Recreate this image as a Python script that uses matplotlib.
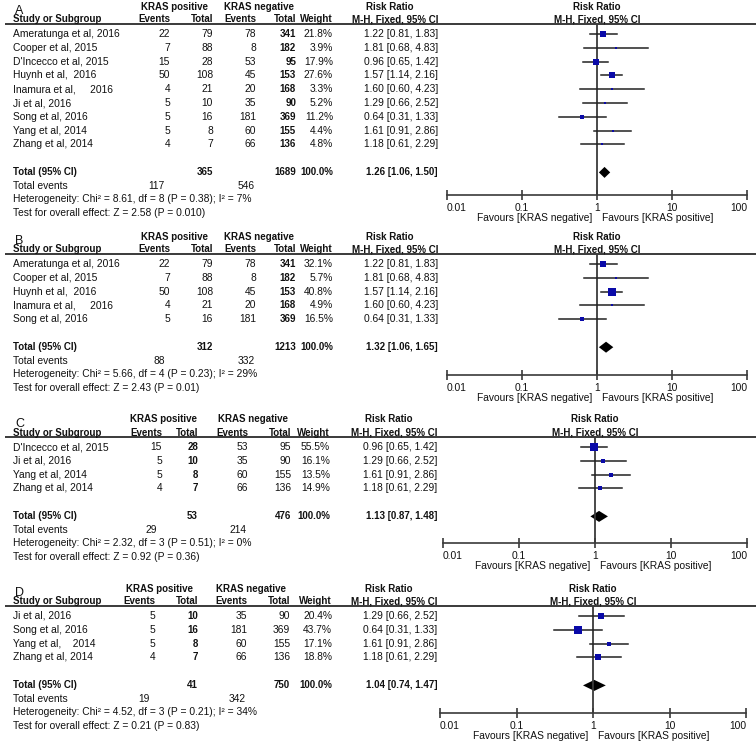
import numpy as np
import matplotlib.pyplot as plt

plt.rcParams['font.family'] = ['Liberation Sans', 'DejaVu Sans']
plt.rcParams['font.size'] = 7.4

W, H = 756, 743

# ---- data ----
# panel A
a_studies = ["Ameratunga et al, 2016", "Cooper et al, 2015", "D'Incecco et al, 2015",
             "Huynh et al,  2016", "Inamura et al,     2016", "Ji et al, 2016",
             "Song et al, 2016", "Yang et al, 2014", "Zhang et al, 2014"]
a_pos_ev = [22, 7, 15, 50, 4, 5, 5, 5, 4]
a_pos_tot = [79, 88, 28, 108, 21, 10, 16, 8, 7]
a_neg_ev = [78, 8, 53, 45, 20, 35, 181, 60, 66]
a_neg_tot = [341, 182, 95, 153, 168, 90, 369, 155, 136]
a_weight = [21.8, 3.9, 17.9, 27.6, 3.3, 5.2, 11.2, 4.4, 4.8]
a_rr = [1.22, 1.81, 0.96, 1.57, 1.60, 1.29, 0.64, 1.61, 1.18]
a_lo = [0.81, 0.68, 0.65, 1.14, 0.60, 0.66, 0.31, 0.91, 0.61]
a_hi = [1.83, 4.83, 1.42, 2.16, 4.23, 2.52, 1.33, 2.86, 2.29]
a_total = [365, 1689, 1.26, 1.06, 1.50]
a_events = [117, 546]
a_het = "Heterogeneity: Chi² = 8.61, df = 8 (P = 0.38); I² = 7%"
a_test = "Test for overall effect: Z = 2.58 (P = 0.010)"

# panel B
b_studies = ["Ameratunga et al, 2016", "Cooper et al, 2015", "Huynh et al,  2016",
             "Inamura et al,     2016", "Song et al, 2016"]
b_pos_ev = [22, 7, 50, 4, 5]
b_pos_tot = [79, 88, 108, 21, 16]
b_neg_ev = [78, 8, 45, 20, 181]
b_neg_tot = [341, 182, 153, 168, 369]
b_weight = [32.1, 5.7, 40.8, 4.9, 16.5]
b_rr = [1.22, 1.81, 1.57, 1.60, 0.64]
b_lo = [0.81, 0.68, 1.14, 0.60, 0.31]
b_hi = [1.83, 4.83, 2.16, 4.23, 1.33]
b_total = [312, 1213, 1.32, 1.06, 1.65]
b_events = [88, 332]
b_het = "Heterogeneity: Chi² = 5.66, df = 4 (P = 0.23); I² = 29%"
b_test = "Test for overall effect: Z = 2.43 (P = 0.01)"

# panel C
c_studies = ["D'Incecco et al, 2015", "Ji et al, 2016", "Yang et al, 2014", "Zhang et al, 2014"]
c_pos_ev = [15, 5, 5, 4]
c_pos_tot = [28, 10, 8, 7]
c_neg_ev = [53, 35, 60, 66]
c_neg_tot = [95, 90, 155, 136]
c_weight = [55.5, 16.1, 13.5, 14.9]
c_rr = [0.96, 1.29, 1.61, 1.18]
c_lo = [0.65, 0.66, 0.91, 0.61]
c_hi = [1.42, 2.52, 2.86, 2.29]
c_total = [53, 476, 1.13, 0.87, 1.48]
c_events = [29, 214]
c_het = "Heterogeneity: Chi² = 2.32, df = 3 (P = 0.51); I² = 0%"
c_test = "Test for overall effect: Z = 0.92 (P = 0.36)"

# panel D
d_studies = ["Ji et al, 2016", "Song et al, 2016", "Yang et al,    2014", "Zhang et al, 2014"]
d_pos_ev = [5, 5, 5, 4]
d_pos_tot = [10, 16, 8, 7]
d_neg_ev = [35, 181, 60, 66]
d_neg_tot = [90, 369, 155, 136]
d_weight = [20.4, 43.7, 17.1, 18.8]
d_rr = [1.29, 0.64, 1.61, 1.18]
d_lo = [0.66, 0.31, 0.91, 0.61]
d_hi = [2.52, 1.33, 2.86, 2.29]
d_total = [41, 750, 1.04, 0.74, 1.47]
d_events = [19, 342]
d_het = "Heterogeneity: Chi² = 4.52, df = 3 (P = 0.21); I² = 34%"
d_test = "Test for overall effect: Z = 0.21 (P = 0.83)"

tick_vals = [0.01, 0.1, 1, 10, 100]
tick_labels = ["0.01", "0.1", "1", "10", "100"]

panels = [
    dict(letter="A", studies=a_studies, pe=a_pos_ev, pt=a_pos_tot, ne=a_neg_ev, nt=a_neg_tot,
         w=a_weight, rr=a_rr, lo=a_lo, hi=a_hi, total=a_total, ev=a_events, het=a_het, test=a_test,
         line_y=24, axis_y=195, fx=(447, 747), cols=(170, 213, 256, 296, 333, 438), bold_col=3),
    dict(letter="B", studies=b_studies, pe=b_pos_ev, pt=b_pos_tot, ne=b_neg_ev, nt=b_neg_tot,
         w=b_weight, rr=b_rr, lo=b_lo, hi=b_hi, total=b_total, ev=b_events, het=b_het, test=b_test,
         line_y=254, axis_y=375, fx=(447, 747), cols=(170, 213, 256, 296, 333, 438), bold_col=3),
    dict(letter="C", studies=c_studies, pe=c_pos_ev, pt=c_pos_tot, ne=c_neg_ev, nt=c_neg_tot,
         w=c_weight, rr=c_rr, lo=c_lo, hi=c_hi, total=c_total, ev=c_events, het=c_het, test=c_test,
         line_y=437, axis_y=543, fx=(443, 747), cols=(162, 198, 248, 291, 330, 437), bold_col=1),
    dict(letter="D", studies=d_studies, pe=d_pos_ev, pt=d_pos_tot, ne=d_neg_ev, nt=d_neg_tot,
         w=d_weight, rr=d_rr, lo=d_lo, hi=d_hi, total=d_total, ev=d_events, het=d_het, test=d_test,
         line_y=606, axis_y=713, fx=(440, 746), cols=(155, 198, 247, 290, 332, 437), bold_col=1),
]

TXT = '#111111'
LINE = '#3a3a3a'
BLUE = '#0a0aa8'
BOLD_SIZE = 7.0

fig = plt.figure(figsize=(W / 100, H / 100), dpi=100)
bg = fig.add_axes([0, 0, 1, 1])
bg.set_xlim(0, W)
bg.set_ylim(H, 0)
bg.axis('off')


def txt(x, y, s, ha='left', bold=False, **kw):
    if bold:
        kw.setdefault('fontsize', BOLD_SIZE)
        kw['fontweight'] = 'bold'
    bg.text(x, y, s, ha=ha, va='center', color=TXT, **kw)


for p in panels:
    ly = p['line_y']
    ay = p['axis_y']
    c_pe, c_pt, c_ne, c_nt, c_w, c_rr = p['cols']
    x0, x1 = p['fx']
    xmid = (x0 + x1) / 2
    step = 13.8
    rows = ly + 10 + step * np.arange(len(p['studies']))
    ty = rows[-1] + 28

    # header
    bg.text(15, ly - 10, p['letter'], ha='left', va='baseline', color=TXT, fontsize=9)
    txt((c_pe - 34 + c_pt) / 2, ly - 17.5, "KRAS positive", ha='center', bold=True)
    txt((c_ne - 34 + c_nt) / 2, ly - 17.5, "KRAS negative", ha='center', bold=True)
    txt(c_rr - 48, ly - 17.5, "Risk Ratio", ha='center', bold=True)
    txt(xmid, ly - 17.5, "Risk Ratio", ha='center', bold=True)
    txt(13, ly - 4.5, "Study or Subgroup", bold=True)
    for cx, lab in zip([c_pe, c_pt, c_ne, c_nt, c_w, c_rr],
                       ["Events", "Total", "Events", "Total", "Weight", "M-H, Fixed, 95% CI"]):
        txt(cx, ly - 4.5, lab, ha='right', bold=True)
    txt(xmid, ly - 4.5, "M-H, Fixed, 95% CI", ha='center', bold=True)
    bg.plot([5, W], [ly, ly], color=LINE, lw=1.4, solid_capstyle='butt')

    # study rows
    for i, y in enumerate(rows):
        txt(13, y, p['studies'][i])
        vals = [p['pe'][i], p['pt'][i], p['ne'][i], p['nt'][i]]
        for j, (cx, v) in enumerate(zip([c_pe, c_pt, c_ne, c_nt], vals)):
            txt(cx, y, str(v), ha='right', bold=(j == p['bold_col']))
        txt(c_w, y, f"{p['w'][i]:.1f}%", ha='right')
        txt(c_rr, y, f"{p['rr'][i]:.2f} [{p['lo'][i]:.2f}, {p['hi'][i]:.2f}]", ha='right')

    # totals
    t = p['total']
    txt(13, ty, "Total (95% CI)", bold=True)
    txt(c_pt, ty, str(t[0]), ha='right', bold=True)
    txt(c_nt, ty, str(t[1]), ha='right', bold=True)
    txt(c_w, ty, "100.0%", ha='right', bold=True)
    txt(c_rr, ty, f"{t[2]:.2f} [{t[3]:.2f}, {t[4]:.2f}]", ha='right', bold=True)
    txt(13, ty + 13.5, "Total events")
    txt(c_pe - 5, ty + 13.5, str(p['ev'][0]), ha='right')
    txt(c_ne - 1, ty + 13.5, str(p['ev'][1]), ha='right')
    txt(13, ty + 27, p['het'])
    txt(13, ty + 40.5, p['test'])

    # forest plot
    ax = fig.add_axes([x0 / W, 1 - ay / H, (x1 - x0) / W, (ay - ly) / H])
    ax.patch.set_visible(False)
    ax.set_xscale('log')
    ax.set_xlim(0.01, 100)
    ax.set_ylim(ay, ly)
    for s in ['top', 'left', 'right']:
        ax.spines[s].set_visible(False)
    ax.spines['bottom'].set_color(LINE)
    ax.spines['bottom'].set_linewidth(1.2)
    ax.set_yticks([])
    ax.set_xticks(tick_vals)
    ax.set_xticklabels(tick_labels)
    ax.xaxis.set_minor_locator(plt.NullLocator())
    ax.tick_params(axis='x', direction='inout', length=7, width=1.2, color=LINE,
                   pad=2, labelsize=7.4, labelcolor=TXT)
    labs = ax.get_xticklabels()
    labs[0].set_ha('left')
    labs[-1].set_ha('right')
    ax.axvline(1, color=LINE, lw=1.3)

    for i, y in enumerate(rows):
        ax.plot([p['lo'][i], p['hi'][i]], [y, y], color='#222222', lw=1.1)
        side = max(2.5, 1.2 * np.sqrt(p['w'][i]))
        ax.plot(p['rr'][i], y, marker='s', ms=side * 0.72, color=BLUE,
                markeredgewidth=0, linestyle='none')
    ax.fill([t[3], t[2], t[4], t[2]], [ty, ty - 5.5, ty, ty + 5.5], color='black', lw=0)

    ax.text(0.86, ay + 23, "Favours [KRAS negative]", ha='right', va='center',
            color=TXT, clip_on=False)
    ax.text(1.16, ay + 23, "Favours [KRAS positive]", ha='left', va='center',
            color=TXT, clip_on=False)

fig.savefig("out.png", dpi=100)
